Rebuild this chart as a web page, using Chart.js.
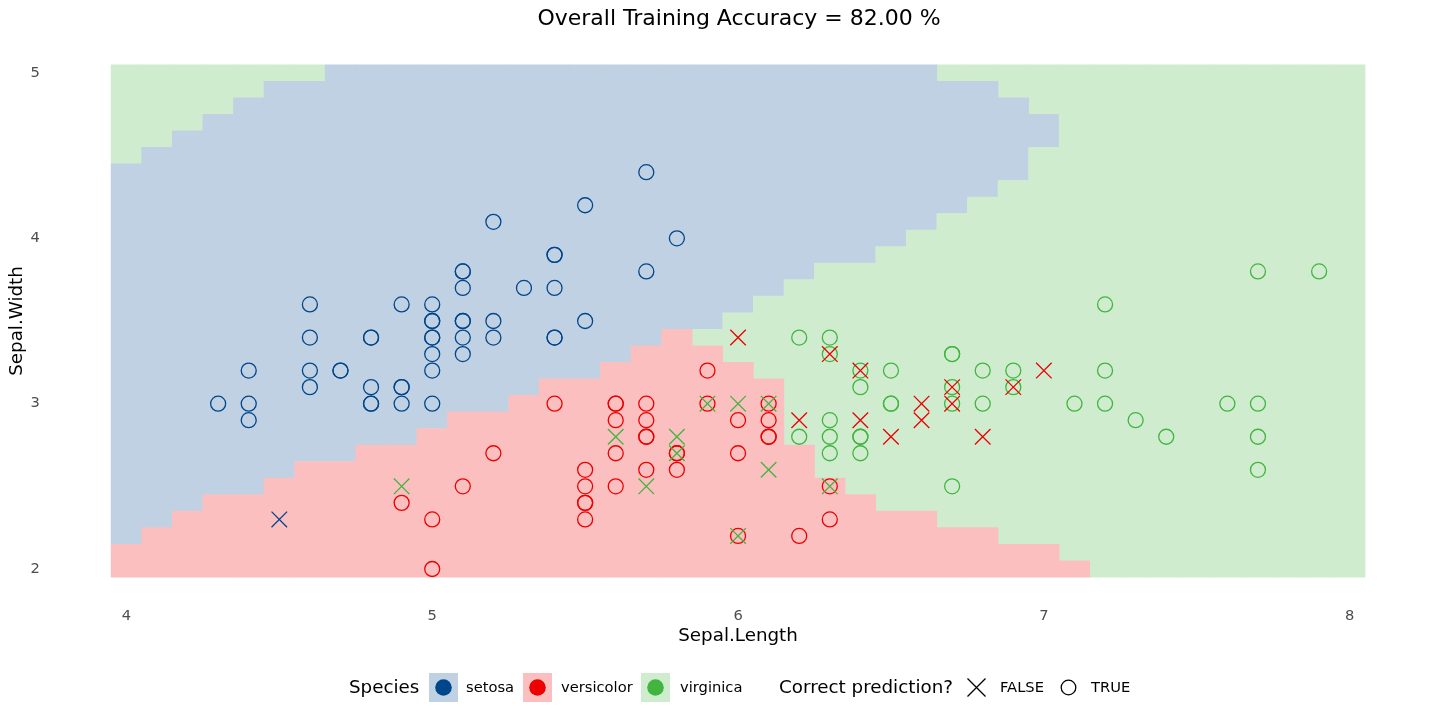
<!DOCTYPE html>
<html>
<head>
<meta charset="utf-8">
<script src="https://cdn.jsdelivr.net/npm/chart.js"></script>
<style>
  body { margin: 0; background: #fff; font-family: "DejaVu Sans", sans-serif; }
  #wrap { position: relative; width: 1440px; height: 720px; overflow: hidden; background: #fff; }
  #title { position: absolute; top: 5px; left: 739px; transform: translateX(-50%); font-size: 22px; line-height: 26px; color: #000; white-space: nowrap; }
  .lt, .ll { position: absolute; top: 0; line-height: 30px; white-space: nowrap; color: #000; }
  .lt { font-size: 18.3px; }
  .ll { font-size: 14.7px; }
  .key { position: absolute; top: 0.5px; }
  #legend { position: absolute; left: 0; top: 672px; width: 1440px; height: 30px; }
</style>
</head>
<body>
<div id="wrap">
  <canvas id="chart" width="1440" height="720"></canvas>
  <div id="title">Overall Training Accuracy = 82.00 %</div>
  <div id="legend">
    <span class="lt" style="left:349px">Species</span>
    <svg class="key" style="left:429px" width="29" height="29"><rect width="29" height="29" fill="#BFD1E2"/><circle cx="14.5" cy="14.5" r="8.3" fill="#00468B"/></svg>
    <span class="ll" style="left:466px">setosa</span>
    <svg class="key" style="left:523px" width="29" height="29"><rect width="29" height="29" fill="#FBBFBF"/><circle cx="14.5" cy="14.5" r="8.3" fill="#ED0000"/></svg>
    <span class="ll" style="left:561px">versicolor</span>
    <svg class="key" style="left:641px" width="29" height="29"><rect width="29" height="29" fill="#D0ECCF"/><circle cx="14.5" cy="14.5" r="8.3" fill="#42B540"/></svg>
    <span class="ll" style="left:680px">virginica</span>
    <span class="lt" style="left:779px">Correct prediction?</span>
    <svg class="key" style="left:962px" width="29" height="29"><path d="M5.5 5.5 L23.5 23.5 M23.5 5.5 L5.5 23.5" stroke="#000" stroke-width="1.3" fill="none"/></svg>
    <span class="ll" style="left:1000px">FALSE</span>
    <svg class="key" style="left:1054px" width="29" height="29"><circle cx="14.5" cy="14.5" r="7.3" stroke="#000" stroke-width="1.3" fill="none"/></svg>
    <span class="ll" style="left:1091px">TRUE</span>
  </div>
</div>
<script>
// decision grid: one column per Sepal.Length step, class bands given by their upper edges
const tileX = [4.0, 4.1, 4.2, 4.3, 4.4, 4.5, 4.6, 4.7, 4.8, 4.9, 5.0, 5.1, 5.2, 5.3, 5.4, 5.5, 5.6, 5.7, 5.8, 5.9,
  6.0, 6.1, 6.2, 6.3, 6.4, 6.5, 6.6, 6.7, 6.8, 6.9, 7.0, 7.1, 7.2, 7.3, 7.4, 7.5, 7.6, 7.7, 7.8, 7.9, 8.0];
const redTop = [2.15, 2.25, 2.35, 2.45, 2.45, 2.55, 2.65, 2.65, 2.75, 2.75, 2.85, 2.95, 2.95, 3.05, 3.15, 3.15, 3.25, 3.35, 3.45, 3.35,
  3.25, 3.15, 2.75, 2.55, 2.45, 2.35, 2.35, 2.25, 2.25, 2.15, 2.15, 2.05, 1.95, 1.95, 1.95, 1.95, 1.95, 1.95, 1.95, 1.95, 1.95];
const greenLowTop = [2.15, 2.25, 2.35, 2.45, 2.45, 2.55, 2.65, 2.65, 2.75, 2.75, 2.85, 2.95, 2.95, 3.05, 3.15, 3.15, 3.25, 3.35, 3.45, 3.45,
  3.55, 3.65, 3.75, 3.85, 3.85, 3.95, 4.05, 4.15, 4.25, 4.35, 4.55, 5.05, 5.05, 5.05, 5.05, 5.05, 5.05, 5.05, 5.05, 5.05, 5.05];
const blueTop = [4.45, 4.55, 4.65, 4.75, 4.85, 4.95, 4.95, 5.05, 5.05, 5.05, 5.05, 5.05, 5.05, 5.05, 5.05, 5.05, 5.05, 5.05, 5.05, 5.05,
  5.05, 5.05, 5.05, 5.05, 5.05, 5.05, 5.05, 4.95, 4.95, 4.85, 4.75, 5.05, 5.05, 5.05, 5.05, 5.05, 5.05, 5.05, 5.05, 5.05, 5.05];
const yFloor = 1.95;
const yCeil = 5.05;

// observations [Sepal.Length, Sepal.Width], split by species and prediction result
const setosaTrue = [[4.3, 3.0], [4.4, 3.2], [4.4, 3.0], [4.4, 2.9], [4.6, 3.6], [4.6, 3.4], [4.6, 3.2], [4.6, 3.1],
  [4.7, 3.2], [4.7, 3.2], [4.8, 3.4], [4.8, 3.4], [4.8, 3.1], [4.8, 3.0], [4.8, 3.0], [4.9, 3.6], [4.9, 3.1], [4.9, 3.1],
  [4.9, 3.0], [5.0, 3.6], [5.0, 3.5], [5.0, 3.5], [5.0, 3.4], [5.0, 3.4], [5.0, 3.3], [5.0, 3.2], [5.0, 3.0], [5.1, 3.8],
  [5.1, 3.8], [5.1, 3.7], [5.1, 3.5], [5.1, 3.5], [5.1, 3.4], [5.1, 3.3], [5.2, 4.1], [5.2, 3.5], [5.2, 3.4], [5.3, 3.7],
  [5.4, 3.9], [5.4, 3.9], [5.4, 3.7], [5.4, 3.4], [5.4, 3.4], [5.5, 4.2], [5.5, 3.5], [5.7, 4.4], [5.7, 3.8], [5.8, 4.0]];
const setosaFalse = [[4.5, 2.3]];
const versicolorTrue = [[4.9, 2.4], [5.0, 2.3], [5.0, 2.0], [5.1, 2.5], [5.2, 2.7], [5.4, 3.0], [5.5, 2.6], [5.5, 2.5],
  [5.5, 2.4], [5.5, 2.4], [5.5, 2.3], [5.6, 3.0], [5.6, 3.0], [5.6, 2.9], [5.6, 2.7], [5.6, 2.5], [5.7, 3.0], [5.7, 2.9],
  [5.7, 2.8], [5.7, 2.8], [5.7, 2.6], [5.8, 2.7], [5.8, 2.7], [5.8, 2.6], [5.9, 3.2], [5.9, 3.0], [6.0, 2.9], [6.0, 2.7],
  [6.0, 2.2], [6.1, 3.0], [6.1, 2.9], [6.1, 2.8], [6.1, 2.8], [6.2, 2.2], [6.3, 2.5], [6.3, 2.3]];
const versicolorFalse = [[6.0, 3.4], [6.2, 2.9], [6.3, 3.3], [6.4, 3.2], [6.4, 2.9], [6.5, 2.8], [6.6, 3.0], [6.6, 2.9],
  [6.7, 3.1], [6.7, 3.0], [6.8, 2.8], [6.9, 3.1], [7.0, 3.2]];
const virginicaTrue = [[6.2, 3.4], [6.2, 2.8], [6.3, 3.4], [6.3, 3.3], [6.3, 2.9], [6.3, 2.8], [6.3, 2.7], [6.4, 3.2],
  [6.4, 3.1], [6.4, 2.8], [6.4, 2.8], [6.4, 2.7], [6.5, 3.2], [6.5, 3.0], [6.5, 3.0], [6.7, 3.3], [6.7, 3.3], [6.7, 3.1],
  [6.7, 3.0], [6.7, 2.5], [6.8, 3.2], [6.8, 3.0], [6.9, 3.2], [6.9, 3.1], [7.1, 3.0], [7.2, 3.6], [7.2, 3.2], [7.2, 3.0],
  [7.3, 2.9], [7.4, 2.8], [7.6, 3.0], [7.7, 3.8], [7.7, 3.0], [7.7, 2.8], [7.7, 2.6], [7.9, 3.8]];
const virginicaFalse = [[4.9, 2.5], [5.6, 2.8], [5.7, 2.5], [5.8, 2.8], [5.8, 2.7], [5.9, 3.0], [6.0, 3.0], [6.0, 2.2],
  [6.1, 3.0], [6.1, 2.6], [6.3, 2.5]];

const xTicks = [4, 5, 6, 7, 8];
const yTicks = [2, 3, 4, 5];

const colors = { setosa: '#00468B', versicolor: '#ED0000', virginica: '#42B540' };
const tileColors = { setosa: '#BFD1E2', versicolor: '#FBBFBF', virginica: '#D0ECCF' };

function band(lo, hi) {
  const out = [];
  tileX.forEach((x, i) => {
    const a = lo(i), b = hi(i);
    if (b > a + 1e-9) out.push({ x: x, y: [a, b] });
  });
  return out;
}

function tiles(label, data, color) {
  return {
    type: 'bar', label: label, data: data, backgroundColor: color, borderWidth: 0,
    grouped: false, barPercentage: 1, categoryPercentage: 1, order: 3
  };
}

function pts(data, color, ok) {
  return {
    type: 'scatter',
    data: data.map(p => ({ x: p[0], y: p[1] })),
    pointStyle: ok ? 'circle' : 'crossRot',
    pointRadius: ok ? 7.5 : 11,
    borderColor: color,
    backgroundColor: 'rgba(0,0,0,0)',
    borderWidth: 1.3,
    order: ok ? 2 : 1
  };
}

Chart.defaults.font.family = '"DejaVu Sans", sans-serif';

new Chart(document.getElementById('chart'), {
  type: 'scatter',
  data: {
    datasets: [
      tiles('versicolor', band(i => yFloor, i => redTop[i]), tileColors.versicolor),
      tiles('virginica', band(i => redTop[i], i => greenLowTop[i]), tileColors.virginica),
      tiles('setosa', band(i => greenLowTop[i], i => blueTop[i]), tileColors.setosa),
      tiles('virginica', band(i => Math.max(blueTop[i], greenLowTop[i]), i => yCeil), tileColors.virginica),
      pts(setosaTrue, colors.setosa, true),
      pts(versicolorTrue, colors.versicolor, true),
      pts(virginicaTrue, colors.virginica, true),
      pts(setosaFalse, colors.setosa, false),
      pts(versicolorFalse, colors.versicolor, false),
      pts(virginicaFalse, colors.virginica, false)
    ]
  },
  options: {
    responsive: false,
    animation: false,
    events: [],
    layout: { padding: { left: 0, top: 39.1, right: 9.8, bottom: 57.1 } },
    plugins: { legend: { display: false }, tooltip: { enabled: false }, title: { display: false } },
    scales: {
      x: {
        type: 'linear', position: 'bottom', min: 3.745, max: 8.255, offset: false,
        grid: { display: false, drawTicks: false, offset: false },
        border: { display: false },
        afterBuildTicks: s => { s.ticks = xTicks.map(v => ({ value: v })); },
        afterFit: s => { s.height = 60; s.paddingLeft = 0; s.paddingRight = 0; },
        ticks: { color: '#4D4D4D', font: { size: 14.7 }, padding: 4.3 },
        title: { display: true, text: 'Sepal.Length', color: '#000', font: { size: 18.3 }, padding: { top: 0, bottom: 15.9 } }
      },
      y: {
        type: 'linear', position: 'left', min: 1.795, max: 5.205,
        grid: { display: false, drawTicks: false },
        border: { display: false },
        afterBuildTicks: s => { s.ticks = yTicks.map(v => ({ value: v })); },
        afterFit: s => { s.width = 48.4; },
        ticks: { color: '#4D4D4D', font: { size: 14.7 }, padding: 8.6 },
        title: { display: true, text: 'Sepal.Width', color: '#000', font: { size: 18.3 }, padding: { top: 6, bottom: 0 } }
      }
    }
  }
});
</script>
</body>
</html>
